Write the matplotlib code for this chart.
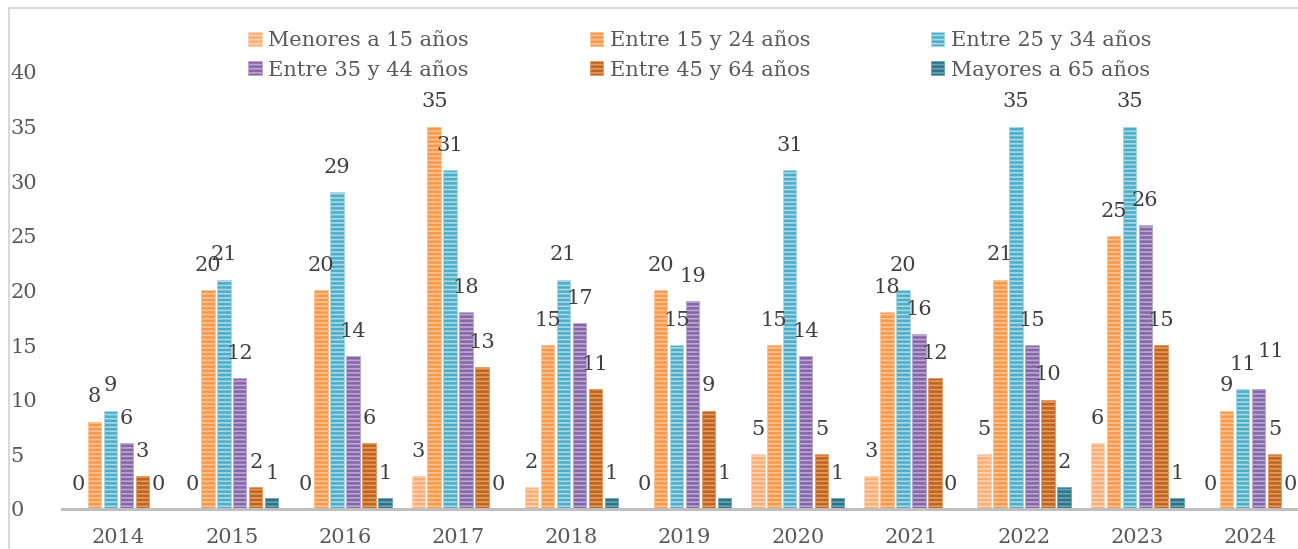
import numpy as np
import matplotlib
matplotlib.use("Agg")
import matplotlib.pyplot as plt
from matplotlib.lines import Line2D

# datos
anios = ["2014", "2015", "2016", "2017", "2018", "2019", "2020", "2021", "2022", "2023", "2024"]
series = ["Menores a 15 años", "Entre 15 y 24 años", "Entre 25 y 34 años",
          "Entre 35 y 44 años", "Entre 45 y 64 años", "Mayores a 65 años"]
menores_15 = [0, 0, 0, 3, 2, 0, 5, 3, 5, 6, 0]
entre_15_24 = [8, 20, 20, 35, 15, 20, 15, 18, 21, 25, 9]
entre_25_34 = [9, 21, 29, 31, 21, 15, 31, 20, 35, 35, 11]
entre_35_44 = [6, 12, 14, 18, 17, 19, 14, 16, 15, 26, 11]
entre_45_64 = [3, 2, 6, 13, 11, 9, 5, 12, 10, 15, 5]
mayores_65 = [0, 1, 1, 0, 1, 1, 1, 0, 2, 1, 0]
valores = [menores_15, entre_15_24, entre_25_34, entre_35_44, entre_45_64, mayores_65]

colores = ["#F8AE74", "#F7984A", "#4EADC6", "#8466A6", "#C0631C", "#2F7485"]
rayas = ["#FCD3B2", "#FBC394", "#A6D8E6", "#BBA8D2", "#E39B62", "#6AA3B3"]

# etiquetas desplazadas (serie, año) -> offset en puntos, como en el original
desplazar = {(3, 10): (9, 20)}

plt.rcParams["font.family"] = ["DejaVu Serif"]
plt.rcParams["hatch.linewidth"] = 1.2

fig = plt.figure(figsize=(12.98, 5.49), dpi=100)
W, H = 1298, 549
y0 = 509
px_unidad = 10.925
ax = fig.add_axes([62 / W, 1 - y0 / H, 1 - 62 / W, (y0 - 17) / H])

x = np.arange(len(anios))
paso = 0.141
ancho = 0.119
handles = []
for i, (nombre, vals) in enumerate(zip(series, valores)):
    pos = x + (i - 2.5) * paso
    bars = ax.bar(pos, vals, width=ancho, color=colores[i], edgecolor=rayas[i],
                  linewidth=0.6, hatch="----", label=nombre)
    handles.append(bars)
    for j, (xb, v) in enumerate(zip(pos, vals)):
        off = desplazar.get((i, j), (0, 11))
        ax.annotate(str(v), (xb, v), xytext=off, textcoords="offset points",
                    ha="center", va="bottom", fontsize=15, color="#404040")

ax.set_xlim(-0.5, 10.42)
ax.set_ylim(0, (y0 - 17) / px_unidad)
ax.set_yticks(range(0, 41, 5))
ax.set_xticks(x)
ax.set_xticklabels(anios)
for s in ["top", "right", "left"]:
    ax.spines[s].set_visible(False)
ax.spines["bottom"].set_color("#BFBFBF")
ax.spines["bottom"].set_linewidth(2.2)
ax.tick_params(axis="both", length=0, labelsize=15, labelcolor="#595959")
ax.tick_params(axis="x", pad=14)
ax.tick_params(axis="y", pad=37)
for lab in ax.get_yticklabels():
    lab.set_horizontalalignment("left")

# leyenda (orden por columnas)
orden = [0, 3, 1, 4, 2, 5]
leg = fig.legend([handles[k] for k in orden], [series[k] for k in orden],
                 ncol=3, loc="upper left", bbox_to_anchor=(240 / W, 1 - 22 / H),
                 frameon=False, fontsize=15, labelcolor="#595959",
                 handlelength=0.65, handleheight=0.65, handletextpad=0.3,
                 columnspacing=5.8, labelspacing=0.45, borderaxespad=0)

# marco del grafico
fig.add_artist(Line2D([9 / W, 1], [1 - 8 / H, 1 - 8 / H], color="#D9D9D9", lw=1.5))
fig.add_artist(Line2D([9 / W, 9 / W], [0, 1 - 8 / H], color="#D9D9D9", lw=1.5))

fig.savefig("out.png", dpi=100)
